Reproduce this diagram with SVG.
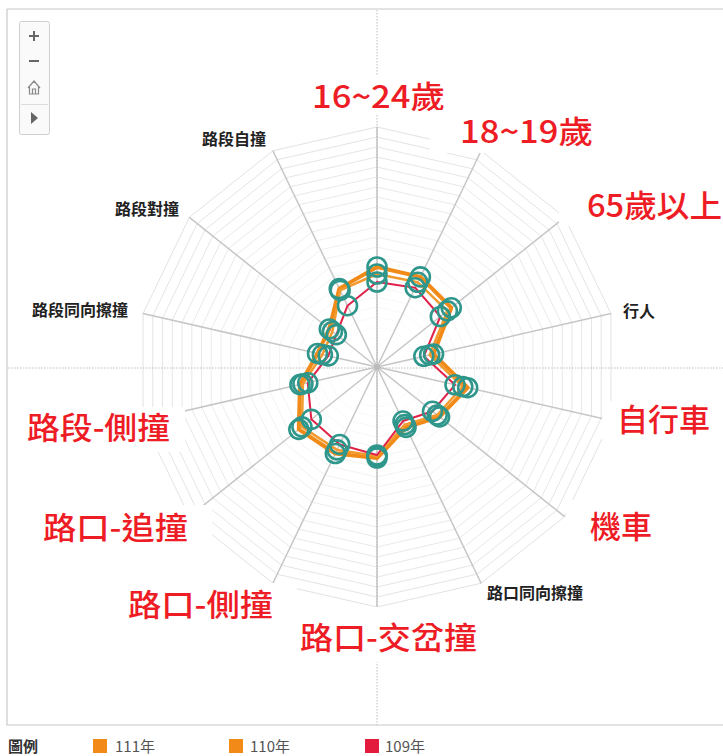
<svg xmlns="http://www.w3.org/2000/svg" xmlns:xlink="http://www.w3.org/1999/xlink" width="723" height="756" viewBox="0 0 723 756">
<style>
.ring{fill:none;stroke:#e2e2e2;stroke-width:1;vector-effect:non-scaling-stroke}
.axis{stroke:#c6c6c6;stroke-width:1.5}
.cross{stroke:#bdbdbd;stroke-width:1;stroke-dasharray:1.5 1.5}
.s1{fill:none;stroke:#f28a18;stroke-width:4;stroke-linejoin:round}
.s2{fill:none;stroke:#f39a2e;stroke-width:2.5;stroke-linejoin:round}
.s3{fill:none;stroke:#e0224a;stroke-width:2;stroke-linejoin:round}
.mk{fill:none;stroke:#2f968b;stroke-width:2.6}
.red{font-family:"Noto Sans CJK TC","Noto Sans CJK SC",sans-serif;font-size:31px;font-weight:500;fill:#ee1c25}
.blk{font-family:"Noto Sans CJK TC","Noto Sans CJK SC",sans-serif;font-size:16px;font-weight:bold;fill:#222}
.lg{font-family:"Noto Sans CJK TC","Noto Sans CJK SC",sans-serif;font-size:15px;fill:#555}
.box{fill:#fff}
.tb{fill:#fafafa;stroke:#cfcfcf;stroke-width:1}
</style>
<defs>
<polygon id="gon" points="0,-240 104.13,-216.23 187.64,-149.64 233.98,-53.4 233.98,53.4 187.64,149.64 104.13,216.23 0,240 -104.13,216.23 -187.64,149.64 -233.98,53.4 -233.98,-53.4 -187.64,-149.64 -104.13,-216.23"/>
</defs>
<rect width="723" height="756" fill="#fff"/>
<path d="M7,9H723M7,9V725H723" fill="none" stroke="#c8c8c8" stroke-width="1.2"/>

<g id="grid" transform="translate(377,367)">
<use href="#gon" class="ring" transform="scale(0.041667)"/>
<use href="#gon" class="ring" transform="scale(0.083333)"/>
<use href="#gon" class="ring" transform="scale(0.125)"/>
<use href="#gon" class="ring" transform="scale(0.166667)"/>
<use href="#gon" class="ring" transform="scale(0.208333)"/>
<use href="#gon" class="ring" transform="scale(0.25)"/>
<use href="#gon" class="ring" transform="scale(0.291667)"/>
<use href="#gon" class="ring" transform="scale(0.333333)"/>
<use href="#gon" class="ring" transform="scale(0.375)"/>
<use href="#gon" class="ring" transform="scale(0.416667)"/>
<use href="#gon" class="ring" transform="scale(0.458333)"/>
<use href="#gon" class="ring" transform="scale(0.5)"/>
<use href="#gon" class="ring" transform="scale(0.541667)"/>
<use href="#gon" class="ring" transform="scale(0.583333)"/>
<use href="#gon" class="ring" transform="scale(0.625)"/>
<use href="#gon" class="ring" transform="scale(0.666667)"/>
<use href="#gon" class="ring" transform="scale(0.708333)"/>
<use href="#gon" class="ring" transform="scale(0.75)"/>
<use href="#gon" class="ring" transform="scale(0.791667)"/>
<use href="#gon" class="ring" transform="scale(0.833333)"/>
<use href="#gon" class="ring" transform="scale(0.875)"/>
<use href="#gon" class="ring" transform="scale(0.916667)"/>
<use href="#gon" class="ring" transform="scale(0.958333)"/>
<use href="#gon" class="ring"/>
</g>

<g id="axes" class="axis">
<line x1="377" y1="367" x2="377" y2="127"/>
<line x1="377" y1="367" x2="481.13" y2="150.77"/>
<line x1="377" y1="367" x2="564.64" y2="217.36"/>
<line x1="377" y1="367" x2="610.98" y2="313.6"/>
<line x1="377" y1="367" x2="610.98" y2="420.4"/>
<line x1="377" y1="367" x2="564.64" y2="516.64"/>
<line x1="377" y1="367" x2="481.13" y2="583.23"/>
<line x1="377" y1="367" x2="377" y2="607"/>
<line x1="377" y1="367" x2="272.87" y2="583.23"/>
<line x1="377" y1="367" x2="189.36" y2="516.64"/>
<line x1="377" y1="367" x2="143.02" y2="420.4"/>
<line x1="377" y1="367" x2="143.02" y2="313.6"/>
<line x1="377" y1="367" x2="189.36" y2="217.36"/>
<line x1="377" y1="367" x2="272.87" y2="150.77"/>
</g>

<g id="crosshair" class="cross">
<line x1="8" y1="368" x2="723" y2="368"/>
<line x1="377" y1="10" x2="377" y2="725"/>
</g>
<circle cx="377" cy="367" r="3" fill="#bbb"/>

<g id="connectors">
<polygon id="s111" class="s1" points="377,267 420.39,276.9 451.27,307.77 433.55,354.09 467.67,387.69 439.55,416.88 406.07,427.36 377,458 335.35,453.49 298.82,429.35 299.98,384.58 317.53,353.43 329.31,328.97 339.25,288.62"/>
<polygon id="s110" class="s2" points="377,274 417.78,282.31 447.36,310.89 429.65,354.98 462.79,386.58 437.2,415.01 404.77,424.66 377,456 337.08,449.89 301.94,426.86 302.91,383.91 322.4,354.54 332.44,331.46 340.12,290.42"/>
<polygon id="s109" class="s3" points="377,282 415.18,287.71 440.33,316.5 423.8,356.32 455,384.8 432.51,411.27 403.03,421.06 377,455 339.69,444.48 311.33,419.37 307.78,382.8 328.25,355.87 336.34,334.58 347.5,305.73"/>
</g>

<g id="markers" class="mk">
<circle cx="377" cy="267" r="9.5"/><circle cx="420.39" cy="276.9" r="9.5"/><circle cx="451.27" cy="307.77" r="9.5"/><circle cx="433.55" cy="354.09" r="9.5"/><circle cx="467.67" cy="387.69" r="9.5"/><circle cx="439.55" cy="416.88" r="9.5"/><circle cx="406.07" cy="427.36" r="9.5"/><circle cx="377" cy="458" r="9.5"/><circle cx="335.35" cy="453.49" r="9.5"/><circle cx="298.82" cy="429.35" r="9.5"/><circle cx="299.98" cy="384.58" r="9.5"/><circle cx="317.53" cy="353.43" r="9.5"/><circle cx="329.31" cy="328.97" r="9.5"/><circle cx="339.25" cy="288.62" r="9.5"/>
<circle cx="377" cy="274" r="9.5"/><circle cx="417.78" cy="282.31" r="9.5"/><circle cx="447.36" cy="310.89" r="9.5"/><circle cx="429.65" cy="354.98" r="9.5"/><circle cx="462.79" cy="386.58" r="9.5"/><circle cx="437.2" cy="415.01" r="9.5"/><circle cx="404.77" cy="424.66" r="9.5"/><circle cx="377" cy="456" r="9.5"/><circle cx="337.08" cy="449.89" r="9.5"/><circle cx="301.94" cy="426.86" r="9.5"/><circle cx="302.91" cy="383.91" r="9.5"/><circle cx="322.4" cy="354.54" r="9.5"/><circle cx="332.44" cy="331.46" r="9.5"/><circle cx="340.12" cy="290.42" r="9.5"/>
<circle cx="377" cy="282" r="9.5"/><circle cx="415.18" cy="287.71" r="9.5"/><circle cx="440.33" cy="316.5" r="9.5"/><circle cx="423.8" cy="356.32" r="9.5"/><circle cx="455" cy="384.8" r="9.5"/><circle cx="432.51" cy="411.27" r="9.5"/><circle cx="403.03" cy="421.06" r="9.5"/><circle cx="377" cy="455" r="9.5"/><circle cx="339.69" cy="444.48" r="9.5"/><circle cx="311.33" cy="419.37" r="9.5"/><circle cx="307.78" cy="382.8" r="9.5"/><circle cx="328.25" cy="355.87" r="9.5"/><circle cx="336.34" cy="334.58" r="9.5"/><circle cx="347.5" cy="305.73" r="9.5"/>
</g>

<g id="axis-labels" class="blk">
<text x="202" y="145">路段自撞</text>
<text x="115" y="215">路段對撞</text>
<text x="32" y="316">路段同向擦撞</text>
<text x="623" y="317">行人</text>
<text x="487" y="599">路口同向擦撞</text>
</g>

<g id="label-16-24"><rect class="box" x="300" y="76" width="155" height="38"/><text class="red" x="312" y="108" textLength="133" lengthAdjust="spacingAndGlyphs">16~24歲</text></g>
<g id="label-18-19"><rect class="box" x="430" y="110" width="172" height="43"/><text class="red" x="460" y="143" textLength="133" lengthAdjust="spacingAndGlyphs">18~19歲</text></g>
<g id="label-65"><rect class="box" x="559" y="185" width="164" height="41"/><text class="red" x="587" y="217" textLength="135" lengthAdjust="spacingAndGlyphs">65歲以上</text></g>
<g id="label-bike"><rect class="box" x="602" y="401" width="121" height="42"/><text class="red" x="617" y="431" textLength="93" lengthAdjust="spacingAndGlyphs">自行車</text></g>
<g id="label-moto"><rect class="box" x="566" y="500" width="100" height="52"/><text class="red" x="590" y="538" textLength="62" lengthAdjust="spacingAndGlyphs">機車</text></g>
<g id="label-cross"><rect class="box" x="290" y="607" width="192" height="55"/><text class="red" x="300" y="649" textLength="177" lengthAdjust="spacingAndGlyphs">路口-交岔撞</text></g>
<g id="label-int-side"><rect class="box" x="125" y="583" width="172" height="42"/><text class="red" x="128" y="616" textLength="145" lengthAdjust="spacingAndGlyphs">路口-側撞</text></g>
<g id="label-int-rear"><rect class="box" x="40" y="505" width="172" height="38"/><text class="red" x="43" y="539" textLength="145" lengthAdjust="spacingAndGlyphs">路口-追撞</text></g>
<g id="label-seg-side"><rect class="box" x="8" y="407" width="177" height="45"/><text class="red" x="27" y="439" textLength="143" lengthAdjust="spacingAndGlyphs">路段-側撞</text></g>

<g id="toolbar">
<rect class="tb" x="19.5" y="21.5" width="30" height="113" rx="2"/>
<path d="M29,36H39M34,31V41" stroke="#666" stroke-width="2"/>
<path d="M29,61H39" stroke="#666" stroke-width="2"/>
<path d="M28,88L34,81L40,88M29.5,87V94H38.5V87M32.5,94V89H35.5V94" fill="none" stroke="#888" stroke-width="1.2"/>
<line x1="21" y1="104.5" x2="48" y2="104.5" stroke="#ddd" stroke-width="1"/>
<polygon points="31,112 38,118 31,124" fill="#666"/>
</g>

<g id="legend">
<text x="8" y="752" class="lg" style="fill:#333;font-weight:bold">圖例</text>
<rect x="93" y="739" width="14" height="14" fill="#f28a18"/>
<text x="115" y="752" class="lg">111年</text>
<rect x="229" y="739" width="14" height="14" fill="#f28a18"/>
<text x="250" y="752" class="lg">110年</text>
<rect x="365" y="739" width="14" height="14" fill="#e31b3c"/>
<text x="385" y="752" class="lg">109年</text>
</g>
</svg>
